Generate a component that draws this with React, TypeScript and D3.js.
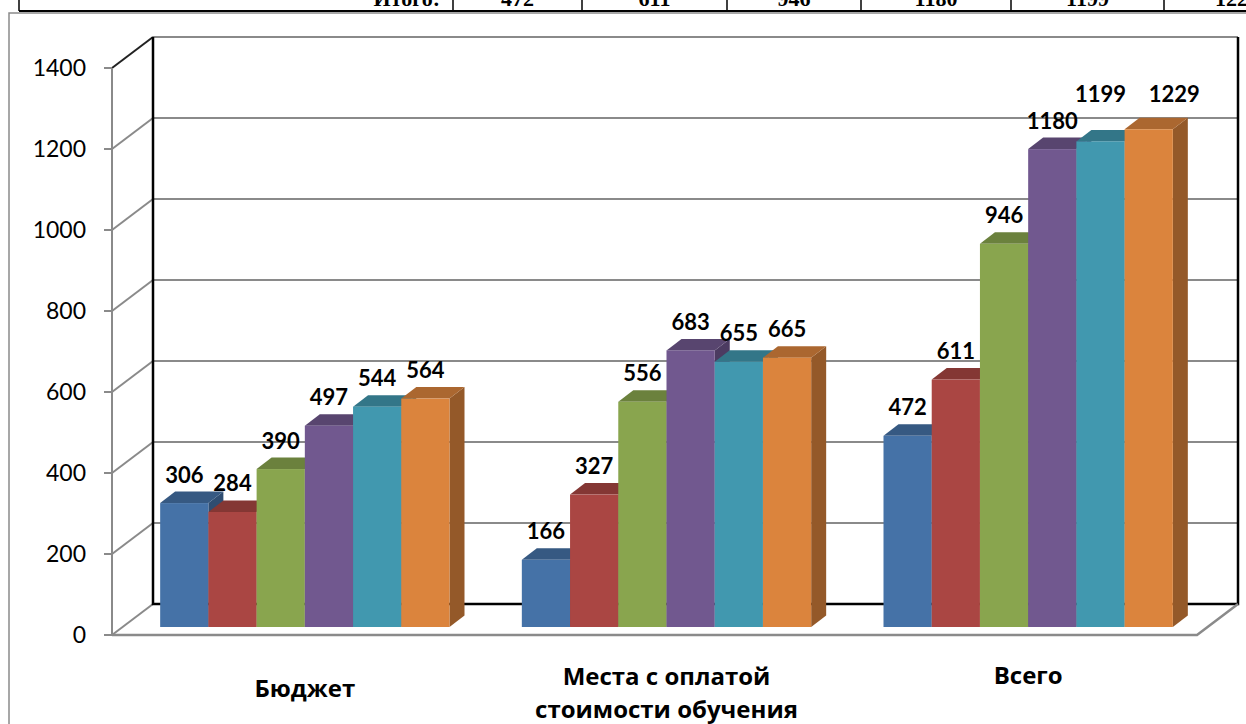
import React, { useEffect, useRef } from "react";
import * as d3 from "d3";

// categories on the x axis (multi-line labels split on \n)
const categories = ["Бюджет", "Места с оплатой\nстоимости обучения", "Всего"];
// six series (legend is not visible in the picture)
const seriesKeys = ["s1", "s2", "s3", "s4", "s5", "s6"];
const seriesColors = ["#4572A7", "#AA4643", "#89A54E", "#71588F", "#4198AF", "#DB843D"];

const budgetValues = [306, 284, 390, 497, 544, 564];
const paidValues = [166, 327, 556, 683, 655, 665];
const totalValues = [472, 611, 946, 1180, 1199, 1229];

const yTicks = [0, 200, 400, 600, 800, 1000, 1200, 1400];

// the row of the table above the chart (only its bottom is visible)
const tableLabel = "Итого:";
const tableCols = [19, 453, 582, 727, 861, 1011, 1164, 1310];

export default function App() {
  const ref = useRef<SVGSVGElement>(null);

  useEffect(() => {
    const data = [budgetValues, paidValues, totalValues];
    const svg = d3.select(ref.current);
    svg.selectAll("*").remove();

    const gray = "#8a8a8a";
    const numFont = "Lato, 'Open Sans', sans-serif";

    // front plane of the 3d box
    const left = 112,
      right = 1197;
    const depth = { dx: 41, dy: -31 }; // wall depth
    const shift = { dx: 12, dy: -8 }; // bars sit a bit behind the front edge
    const barDepth = { dx: 15, dy: -11.5 };

    const y = d3.scaleLinear().domain([0, 1400]).range([635, 68]);
    const x0 = d3
      .scaleBand()
      .domain(categories)
      .range([left, right])
      .paddingInner(0.2)
      .paddingOuter(0.1);
    const x1 = d3.scaleBand().domain(seriesKeys).range([0, x0.bandwidth()]);

    // outer chart frame
    svg
      .append("path")
      .attr("d", "M9,724V13H1246")
      .attr("fill", "none")
      .attr("stroke", gray)
      .attr("stroke-width", 1.5);

    // table row above
    const table = svg.append("g");
    table
      .selectAll("line.col")
      .data(tableCols)
      .join("line")
      .attr("class", "col")
      .attr("x1", (d) => d)
      .attr("x2", (d) => d)
      .attr("y1", 0)
      .attr("y2", 11)
      .attr("stroke", "#000")
      .attr("stroke-width", 1.5);
    table
      .append("line")
      .attr("x1", 19)
      .attr("x2", 1246)
      .attr("y1", 11)
      .attr("y2", 11)
      .attr("stroke", "#000")
      .attr("stroke-width", 2);
    table
      .append("text")
      .attr("x", 440)
      .attr("y", 6)
      .attr("text-anchor", "end")
      .style("font-family", "'Liberation Serif', serif")
      .style("font-weight", "bold")
      .style("font-size", "22px")
      .text(tableLabel);
    table
      .selectAll("text.val")
      .data(totalValues)
      .join("text")
      .attr("class", "val")
      .attr("x", (d, i) => (tableCols[i + 1] + tableCols[i + 2]) / 2)
      .attr("y", 6)
      .attr("text-anchor", "middle")
      .style("font-family", "'Liberation Serif', serif")
      .style("font-weight", "bold")
      .style("font-size", "22px")
      .text((d) => d);

    const walls = svg.append("g");
    const back = (v: number) => y(v) + depth.dy;

    // side wall diagonals
    walls
      .selectAll("line.diag")
      .data(yTicks)
      .join("line")
      .attr("class", "diag")
      .attr("x1", left)
      .attr("y1", (d) => y(d))
      .attr("x2", left + depth.dx)
      .attr("y2", (d) => back(d))
      .attr("stroke", (d) => (d === 1400 ? "#222" : gray))
      .attr("stroke-width", 2);

    // back wall gridlines
    walls
      .selectAll("line.grid")
      .data(yTicks.filter((d) => d > 0))
      .join("line")
      .attr("class", "grid")
      .attr("x1", left + depth.dx)
      .attr("x2", right + depth.dx)
      .attr("y1", (d) => back(d))
      .attr("y2", (d) => back(d))
      .attr("stroke", gray)
      .attr("stroke-width", 2);

    // back wall edges
    walls
      .append("path")
      .attr(
        "d",
        `M${left + depth.dx},${back(1400)}V${back(0)}H${right + depth.dx}V${back(1400)}`
      )
      .attr("fill", "none")
      .attr("stroke", "#000")
      .attr("stroke-width", 2.5);

    // floor front and right edges
    walls
      .append("path")
      .attr("d", `M${left},${y(0)}H${right}L${right + depth.dx},${back(0)}`)
      .attr("fill", "none")
      .attr("stroke", gray)
      .attr("stroke-width", 2.5);

    // y axis
    walls
      .append("line")
      .attr("x1", left)
      .attr("x2", left)
      .attr("y1", y(0))
      .attr("y2", y(1400))
      .attr("stroke", gray)
      .attr("stroke-width", 2);
    walls
      .selectAll("line.tick")
      .data(yTicks)
      .join("line")
      .attr("class", "tick")
      .attr("x1", left - 8)
      .attr("x2", left)
      .attr("y1", (d) => y(d))
      .attr("y2", (d) => y(d))
      .attr("stroke", gray)
      .attr("stroke-width", 2);
    walls
      .selectAll("text.tick")
      .data(yTicks)
      .join("text")
      .attr("class", "tick")
      .attr("x", 86)
      .attr("y", (d) => y(d))
      .attr("dy", "0.36em")
      .attr("text-anchor", "end")
      .style("font-family", numFont)
      .style("font-size", "23px")
      .text((d) => d);

    // bars
    const bars = svg.append("g");
    const baseY = y(0) + shift.dy;
    const w = x1.bandwidth();
    data.forEach((values, ci) => {
      values.forEach((v, si) => {
        const c = d3.color(seriesColors[si])!;
        const x = x0(categories[ci])! + x1(seriesKeys[si])! + shift.dx;
        const top = y(v) + shift.dy;
        const g = bars.append("g");
        g.append("polygon")
          .attr(
            "points",
            [
              [x + w, top],
              [x + w + barDepth.dx, top + barDepth.dy],
              [x + w + barDepth.dx, baseY + barDepth.dy],
              [x + w, baseY],
            ].join(" ")
          )
          .attr("fill", c.darker(1.1).formatHex());
        g.append("polygon")
          .attr(
            "points",
            [
              [x, top],
              [x + barDepth.dx, top + barDepth.dy],
              [x + w + barDepth.dx, top + barDepth.dy],
              [x + w, top],
            ].join(" ")
          )
          .attr("fill", c.darker(0.7).formatHex());
        g.append("rect")
          .attr("x", x)
          .attr("y", top)
          .attr("width", w)
          .attr("height", baseY - top)
          .attr("fill", c.formatHex());
      });
    });

    // value labels, moved when they would collide with the previous one
    const labels = svg.append("g");
    data.forEach((values, ci) => {
      let prev: any = null;
      values.forEach((v, si) => {
        const x = x0(categories[ci])! + x1(seriesKeys[si])! + shift.dx;
        let cx = x + w / 2;
        let base = y(v) + shift.dy + barDepth.dy - 9;
        const t = labels
          .append("text")
          .attr("text-anchor", "middle")
          .style("font-family", numFont)
          .style("font-weight", "bold")
          .style("font-size", "22px")
          .text(v);
        const tw = (t.node() as SVGTextElement).getComputedTextLength();
        let moved = false;
        if (
          prev &&
          cx - tw / 2 < prev.r + 2 &&
          base - 16 < prev.base &&
          base > prev.base - 16
        ) {
          if (!prev.moved) {
            base = prev.base - 27;
          } else {
            cx += tw / 2;
            base = Math.min(base, prev.base);
          }
          moved = true;
        }
        t.attr("x", cx).attr("y", base);
        prev = { r: cx + tw / 2, base, moved };
      });
    });

    // category labels
    const first = x0(categories[0])! + x0.bandwidth() / 2;
    const last = x0(categories[categories.length - 1])! + x0.bandwidth() / 2;
    const labelY = d3.scaleLinear().domain([first, last]).range([697, 684]);
    categories.forEach((cat) => {
      const mid = x0(cat)! + x0.bandwidth() / 2;
      const lines = cat.split("\n");
      const t = svg
        .append("text")
        .attr("text-anchor", "middle")
        .style("font-family", "'Open Sans', sans-serif")
        .style("font-weight", "bold")
        .style("font-size", "24px");
      lines.forEach((line, li) => {
        t.append("tspan")
          .attr("x", mid + shift.dx)
          .attr("y", labelY(mid) - (lines.length - 1) * 6 + li * 33)
          .text(line);
      });
    });
  }, []);

  return (
    <svg
      ref={ref}
      width={1246}
      height={724}
      style={{ position: "absolute", left: 0, top: 0, background: "#fff" }}
    />
  );
}
